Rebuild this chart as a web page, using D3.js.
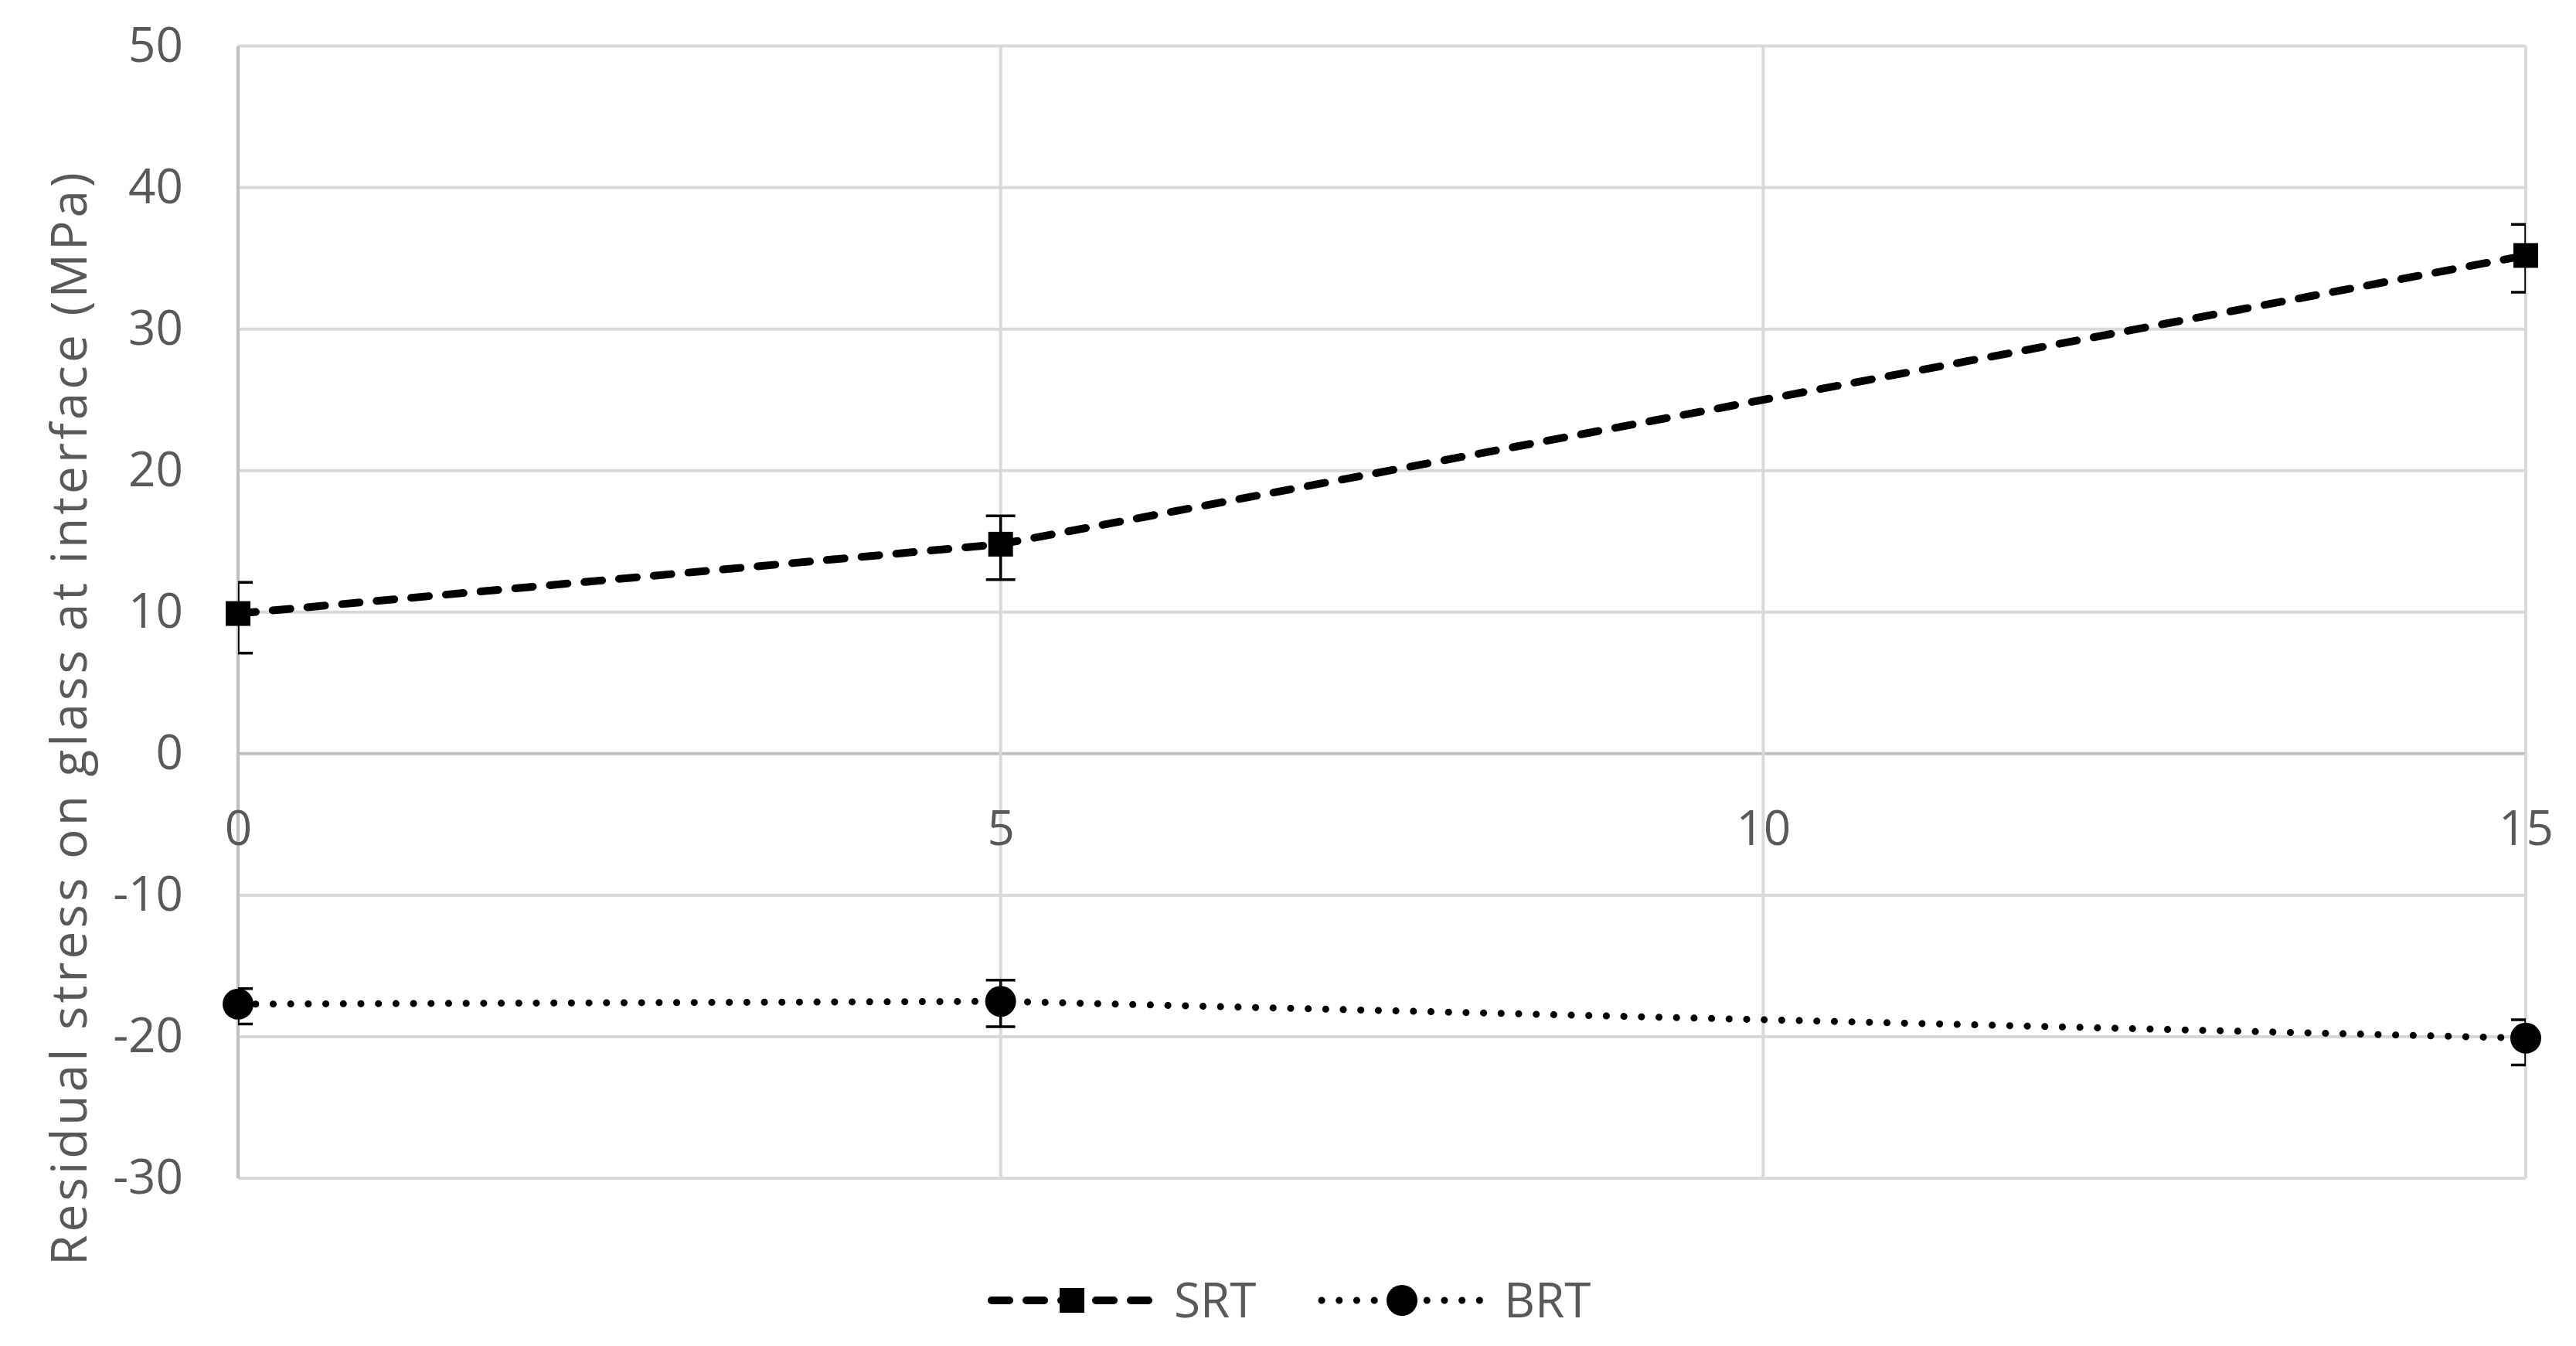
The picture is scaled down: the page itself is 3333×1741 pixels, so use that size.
<!DOCTYPE html>
<html lang="en">
    <head>
        <meta charset="UTF-8">
        <script src="https://cdn.jsdelivr.net/npm/d3@7"></script>
        <title>Residual stress</title>
        <style>
            body { margin: 0; background: #fff; }
            text { font-family: "Open Sans", "Noto Sans", sans-serif; fill: #595959; }
        </style>
    </head>
    <body>
        <div id="canvas"></div>

        <script>
            //  data
            var xValues = [0, 5, 15];
            var srtValues = [9.9, 14.8, 35.2];
            var srtErrPlus = [2.2, 2.0, 2.2];
            var srtErrMinus = [2.8, 2.5, 2.6];
            var brtValues = [-17.7, -17.5, -20.1];
            var brtErrPlus = [1.1, 1.5, 1.3];
            var brtErrMinus = [1.4, 1.8, 1.9];
            var seriesNames = ['SRT', 'BRT'];
            var xTicks = [0, 5, 10, 15];
            var yTicks = [50, 40, 30, 20, 10, 0, -10, -20, -30];
            var yTitle = 'Residual stress on glass at interface (MPa)';

            var W = 3333, H = 1741;
            //  plot area (window.top is reserved, so no "top" here)
            var plotL = 308, plotR = 3268, plotT = 59.5, plotB = 1524;

            var x = d3.scaleLinear().domain([0, 15]).range([plotL, plotR]);
            var y = d3.scaleLinear().domain([-30, 50]).range([plotB, plotT]);

            var svg = d3.select('#canvas').append('svg')
                    .attr('width', W)
                    .attr('height', H);

            svg.append('defs').append('clipPath').attr('id', 'plot')
                    .append('rect')
                    .attr('x', plotL).attr('y', 0)
                    .attr('width', plotR - plotL).attr('height', H);

            //  grid
            svg.append('g').selectAll('line').data(yTicks).join('line')
                    .attr('x1', plotL).attr('x2', plotR)
                    .attr('y1', d => y(d)).attr('y2', d => y(d))
                    .attr('stroke', d => d === 0 ? '#bfbfbf' : '#d9d9d9')
                    .attr('stroke-width', 4);
            svg.append('g').selectAll('line').data(xTicks).join('line')
                    .attr('x1', d => x(d)).attr('x2', d => x(d))
                    .attr('y1', plotT).attr('y2', plotB)
                    .attr('stroke', d => d === 0 ? '#bfbfbf' : '#d9d9d9')
                    .attr('stroke-width', 4);

            //  axes, ticks only; plain hyphen for negatives like Excel
            var fmt = d => String(d);
            var yAxis = d3.axisLeft(y).tickValues(yTicks).tickFormat(fmt).tickSize(0).tickPadding(71);
            var gy = svg.append('g').attr('transform', 'translate(' + plotL + ',0)').call(yAxis);
            var xAxis = d3.axisBottom(x).tickValues(xTicks).tickFormat(fmt).tickSize(0).tickPadding(74);
            var gx = svg.append('g').attr('transform', 'translate(0,' + y(0) + ')').call(xAxis);
            [gx, gy].forEach(function (g) {
                g.select('.domain').remove();
                g.selectAll('text')
                        .attr('font-size', 62)
                        .attr('font-family', null)
                        .attr('fill', '#595959');
            });

            svg.append('text')
                    .attr('transform', 'translate(112,' + 930 + ') rotate(-90)')
                    .attr('text-anchor', 'middle')
                    .attr('font-size', 64)
                    .attr('textLength', 1414)
                    .attr('lengthAdjust', 'spacing')
                    .text(yTitle);

            var series = [
                {name: seriesNames[0], values: srtValues, plus: srtErrPlus, minus: srtErrMinus,
                    dash: '23,22', width: 10, marker: 'square'},
                {name: seriesNames[1], values: brtValues, plus: brtErrPlus, minus: brtErrMinus,
                    dash: '0.1,22.6', width: 9, marker: 'circle'}
            ];

            var line = d3.line().x(d => x(d.x)).y(d => y(d.y));

            function drawMarker(g, kind, cx, cy) {
                if (kind === 'square') {
                    g.append('rect')
                            .attr('x', cx - 16).attr('y', cy - 16)
                            .attr('width', 32).attr('height', 32)
                            .attr('fill', '#000');
                } else {
                    g.append('circle')
                            .attr('cx', cx).attr('cy', cy).attr('r', 20)
                            .attr('fill', '#000');
                }
            }

            series.forEach(function (s) {
                var pts = xValues.map((v, i) => ({x: v, y: s.values[i], p: s.plus[i], m: s.minus[i]}));

                //  error bars, clipped to the plot area like Excel does
                var eb = svg.append('g').attr('clip-path', 'url(#plot)')
                        .attr('stroke', '#000').attr('stroke-width', 3.5);
                pts.forEach(function (d) {
                    var cx = x(d.x), hi = y(d.y + d.p), lo = y(d.y - d.m);
                    eb.append('line').attr('x1', cx).attr('x2', cx).attr('y1', hi).attr('y2', lo);
                    eb.append('line').attr('x1', cx - 19).attr('x2', cx + 19).attr('y1', hi).attr('y2', hi);
                    eb.append('line').attr('x1', cx - 19).attr('x2', cx + 19).attr('y1', lo).attr('y2', lo);
                });

                svg.append('path')
                        .attr('d', line(pts))
                        .attr('fill', 'none')
                        .attr('stroke', '#000')
                        .attr('stroke-width', s.width)
                        .attr('stroke-linecap', 'round')
                        .attr('stroke-dasharray', s.dash);

                var mg = svg.append('g');
                pts.forEach(d => drawMarker(mg, s.marker, x(d.x), y(d.y)));
            });

            //  legend
            var legendX = [1283, 1710];
            var legendY = 1682;
            series.forEach(function (s, i) {
                var g = svg.append('g').attr('transform', 'translate(' + legendX[i] + ',' + legendY + ')');
                g.append('line')
                        .attr('x1', 0).attr('x2', 206)
                        .attr('stroke', '#000')
                        .attr('stroke-width', s.width)
                        .attr('stroke-linecap', 'round')
                        .attr('stroke-dasharray', s.dash);
                drawMarker(g, s.marker, 104, 0);
                g.append('text')
                        .attr('x', 236)
                        .attr('dy', '0.36em')
                        .attr('font-size', 62)
                        .text(s.name);
            });
        </script>
    </body>
</html>
